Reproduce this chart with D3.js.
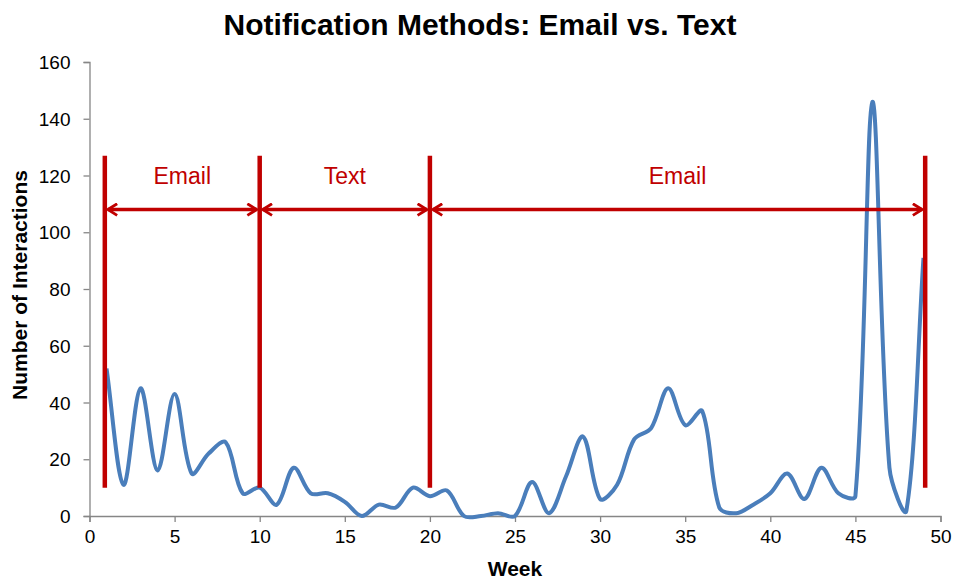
<!DOCTYPE html>
<html>
<head>
<meta charset="utf-8">
<script src="https://cdn.jsdelivr.net/npm/d3@7"></script>
<style>
  body { margin: 0; background: #fff; }
  svg { display: block; font-family: "Liberation Sans", Arial, sans-serif; }
  .axis path, .axis line { stroke: #868686; stroke-width: 1.3; }
  .axis text { font-size: 19px; fill: #000; }
</style>
</head>
<body>
<svg id="chart" width="954" height="579"></svg>
<script>
'use strict';
// weekly interactions
var weeks = d3.range(1, 50);
var interactions = [52, 11, 45, 16, 43, 15, 22, 26, 8, 10,
    4, 17, 8, 8, 5, 0, 4, 3, 10, 7,
    9, 0, 0, 1, 0, 12, 1, 14, 28, 6,
    11, 27, 31, 45, 32, 37, 3, 1, 4, 8,
    15, 6, 17, 8, 7, 146, 17, 2, 91];
var xTicks = [0, 5, 10, 15, 20, 25, 30, 35, 40, 45, 50];
var yTicks = [0, 20, 40, 60, 80, 100, 120, 140, 160];
// period markers
var dividers = [0.9, 10, 20, 49.1];
var periods = [[0.9, 10], [10, 20], [20, 49.1]];
var periodLabels = ['Email', 'Text', 'Email'];

var svg = d3.select('#chart'),
    margin = {top: 62, right: 13.5, bottom: 63, left: 89.5},
    width = +svg.attr('width') - margin.left - margin.right,
    height = +svg.attr('height') - margin.top - margin.bottom,
    g = svg.append('g').attr('transform', 'translate(' + margin.left + ',' + margin.top + ')');

var x = d3.scaleLinear().domain([0, 50]).range([0, width]);
var y = d3.scaleLinear().domain([0, 160]).range([height, 0]);

var red = '#C00000';

svg.append('text')
    .attr('x', 480).attr('y', 35)
    .attr('text-anchor', 'middle')
    .style('font-size', '30px').style('font-weight', 'bold')
    .text('Notification Methods: Email vs. Text');

g.append('g')
    .attr('class', 'axis')
    .call(d3.axisLeft(y).tickValues(yTicks).tickSize(6).tickPadding(13))
    .call(function (a) { a.selectAll('text').attr('dy', '0.35em'); });

g.append('g')
    .attr('class', 'axis')
    .attr('transform', 'translate(0,' + height + ')')
    .call(d3.axisBottom(x).tickValues(xTicks).tickSize(6).tickPadding(8));

svg.append('text')
    .attr('transform', 'translate(27,' + 285 + ') rotate(-90)')
    .attr('text-anchor', 'middle')
    .style('font-size', '21px').style('font-weight', 'bold')
    .text('Number of Interactions');

svg.append('text')
    .attr('x', 515).attr('y', 576)
    .attr('text-anchor', 'middle')
    .style('font-size', '21px').style('font-weight', 'bold')
    .text('Week');

// arrowheads
var defs = svg.append('defs');
['end', 'start'].forEach(function (k) {
    defs.append('marker')
        .attr('id', 'arrow-' + k)
        .attr('viewBox', '-10 -6 12 12')
        .attr('markerWidth', 4).attr('markerHeight', 4)
        .attr('refX', 0).attr('refY', 0)
        .attr('orient', k === 'end' ? 'auto' : 'auto-start-reverse')
        .attr('markerUnits', 'strokeWidth')
        .append('path')
        .attr('d', 'M-8,-5 L0,0 L-8,5')
        .attr('fill', 'none')
        .attr('stroke', red)
        .attr('stroke-width', 2.4);
});

// excel-like smoothing: tangent along neighbours, handles scaled by segment length
function smoothPath(pts) {
    var p = d3.path(), n = pts.length;
    function dist(a, b) { return Math.hypot(b[0] - a[0], b[1] - a[1]); }
    function handles(i) {
        var prev = pts[Math.max(i - 1, 0)], next = pts[Math.min(i + 1, n - 1)];
        var dp = dist(prev, pts[i]), dn = dist(pts[i], next), s = dp + dn || 1;
        var tx = next[0] - prev[0], ty = next[1] - prev[1];
        return {
            inn: [pts[i][0] - tx * dp / s / 3, pts[i][1] - ty * dp / s / 3],
            out: [pts[i][0] + tx * dn / s / 3, pts[i][1] + ty * dn / s / 3]
        };
    }
    var h = pts.map(function (d, i) { return handles(i); });
    p.moveTo(pts[0][0], pts[0][1]);
    for (var i = 1; i < n; i++) {
        p.bezierCurveTo(h[i - 1].out[0], h[i - 1].out[1], h[i].inn[0], h[i].inn[1], pts[i][0], pts[i][1]);
    }
    return p.toString();
}

var points = interactions.map(function (d, i) { return [x(weeks[i]), y(d)]; });

g.append('path')
    .attr('fill', 'none')
    .attr('stroke', '#4A7EBB')
    .attr('stroke-width', 4)
    .attr('stroke-linejoin', 'round')
    .attr('d', smoothPath(points));

g.selectAll('.divider')
    .data(dividers)
    .enter().append('line')
    .attr('class', 'divider')
    .attr('x1', function (d) { return x(d); })
    .attr('x2', function (d) { return x(d); })
    .attr('y1', y(127))
    .attr('y2', y(10))
    .attr('stroke', red)
    .attr('stroke-width', 4.5);

g.selectAll('.period')
    .data(periods)
    .enter().append('line')
    .attr('class', 'period')
    .attr('x1', function (d) { return x(d[0]) + 3; })
    .attr('x2', function (d) { return x(d[1]) - 3; })
    .attr('y1', y(108))
    .attr('y2', y(108))
    .attr('stroke', red)
    .attr('stroke-width', 3.5)
    .attr('marker-start', 'url(#arrow-start)')
    .attr('marker-end', 'url(#arrow-end)');

g.selectAll('.period-label')
    .data(periods)
    .enter().append('text')
    .attr('class', 'period-label')
    .attr('x', function (d) { return x((d[0] + d[1]) / 2); })
    .attr('y', y(117))
    .attr('text-anchor', 'middle')
    .attr('fill', red)
    .style('font-size', '23px')
    .text(function (d, i) { return periodLabels[i]; });
</script>
</body>
</html>
